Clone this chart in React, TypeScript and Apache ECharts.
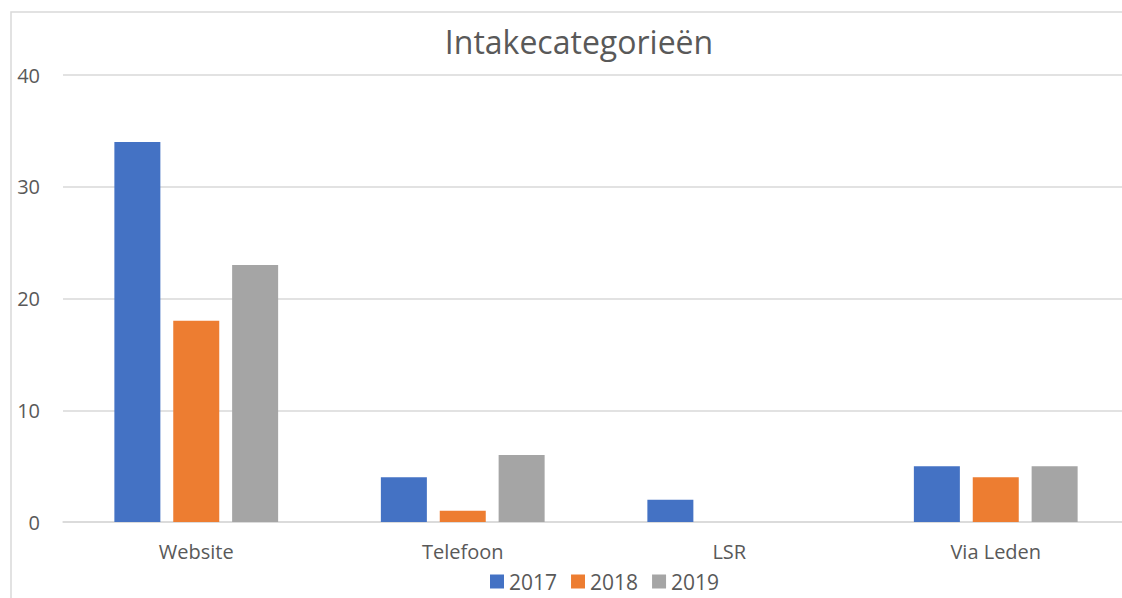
import React, { useEffect, useRef } from "react";
import * as echarts from "echarts";

const categories = ["Website", "Telefoon", "LSR", "Via Leden"];
const seriesNames = ["2017", "2018", "2019"];
const values2017 = [34, 4, 2, 5];
const values2018 = [18, 1, 0, 4];
const values2019 = [23, 6, 0, 5];
const colors = ["#4472C4", "#ED7D31", "#A5A5A5"];
const titleText = "Intakecategorieën";

export default function App() {
  const ref = useRef<HTMLDivElement>(null);
  useEffect(() => {
    document.body.style.margin = "0";
    document.body.style.overflow = "hidden";
    const chart = echarts.init(ref.current!, null, { renderer: "svg" });
    const data = [values2017, values2018, values2019];
    chart.setOption({
      animation: false,
      backgroundColor: "#ffffff",
      textStyle: { fontFamily: "Open Sans" },
      title: {
        text: titleText,
        left: 574,
        textAlign: "center",
        top: 20,
        textStyle: { fontSize: 32, fontWeight: "normal", color: "#595959", fontFamily: "Open Sans" },
      },
      graphic: [
        {
          type: "rect",
          shape: { x: 11, y: 12, width: 1300, height: 800 },
          style: { fill: "none", stroke: "#D9D9D9", lineWidth: 1.5 },
          z: -1,
        },
      ],
      legend: {
        data: seriesNames,
        top: 566,
        left: 485,
        itemWidth: 14,
        itemHeight: 14,
        itemGap: 14,
        icon: "rect",
        textStyle: { fontSize: 21, color: "#595959", fontFamily: "Open Sans" },
      },
      grid: { left: 63, right: 0, top: 75, bottom: 76, containLabel: false },
      xAxis: {
        type: "category",
        data: categories,
        axisTick: { show: false },
        axisLine: { lineStyle: { color: "#D9D9D9", width: 1.5 } },
        axisLabel: { fontSize: 20, color: "#595959", margin: 19, fontFamily: "Open Sans" },
      },
      yAxis: {
        type: "value",
        min: 0,
        max: 40,
        interval: 10,
        axisLine: { show: false },
        axisTick: { show: false },
        splitLine: { lineStyle: { color: "#D9D9D9", width: 1.5 } },
        axisLabel: { fontSize: 20, color: "#595959", margin: 23, fontFamily: "Open Sans" },
      },
      series: seriesNames.map((name, i) => ({
        name,
        type: "bar",
        data: data[i],
        barWidth: 46,
        barGap: "28%",
        itemStyle: { color: colors[i] },
      })),
    });
    return () => chart.dispose();
  }, []);
  return <div ref={ref} style={{ width: 1129, height: 598 }} />;
}
